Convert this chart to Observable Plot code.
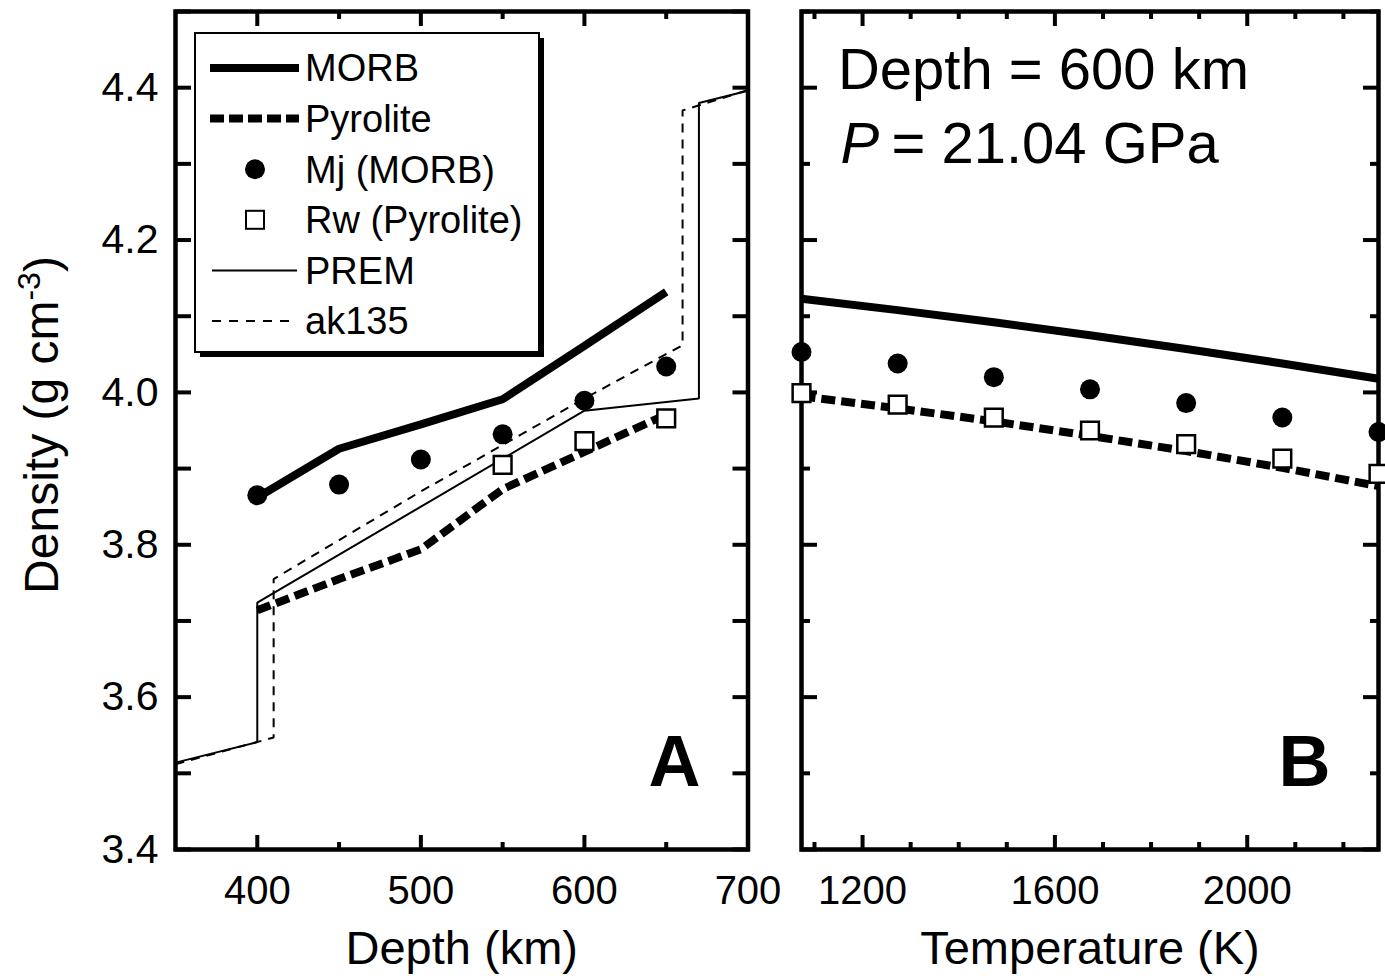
<!DOCTYPE html>
<html><head><meta charset="utf-8">
<script src="https://cdn.jsdelivr.net/npm/d3@7"></script>
<script src="https://cdn.jsdelivr.net/npm/@observablehq/plot@0.6"></script>
<style>
body{margin:0;background:#fff;}
#wrap{display:flex;width:1385px;height:976px;position:relative;}
#wrap svg{flex:none;}
</style></head><body><div id="wrap"></div>
<script>
// ---------- Panel A: density vs depth ----------
const depthMORB = [400, 450, 500, 550, 600, 650];
const rhoMORB   = [3.862, 3.926, 3.958, 3.991, 4.061, 4.132];
const depthPyr  = [400, 450, 500, 550, 600, 650];
const rhoPyr    = [3.714, 3.755, 3.794, 3.873, 3.922, 3.971];
const depthMj   = [400, 450, 500, 550, 600, 650];
const rhoMj     = [3.865, 3.879, 3.912, 3.945, 3.989, 4.034];
const depthRw   = [550, 600, 650];
const rhoRw     = [3.905, 3.936, 3.966];
const depthPREM = [350, 400, 400, 600, 670, 670, 700];
const rhoPREM   = [3.514, 3.541, 3.724, 3.976, 3.992, 4.380, 4.396];
const depthAK   = [350, 410, 410, 500, 600, 660, 660, 700];
const rhoAK     = [3.512, 3.547, 3.755, 3.870, 3.992, 4.062, 4.370, 4.397];

// ---------- Panel B: density vs temperature at 600 km ----------
const temps     = [1073, 1273, 1473, 1673, 1873, 2073, 2273];
const rhoMORB_T = [4.123, 4.108, 4.092, 4.075, 4.057, 4.038, 4.018];
const rhoPyr_T  = [3.995, 3.979, 3.962, 3.943, 3.923, 3.901, 3.877];
const rhoMj_T   = [4.053, 4.038, 4.020, 4.004, 3.986, 3.967, 3.948];
const rhoRw_T   = [3.999, 3.984, 3.967, 3.950, 3.932, 3.913, 3.893];

// ---------- ticks / labels ----------
const yMajor  = [3.4, 3.6, 3.8, 4.0, 4.2, 4.4];
const yMinor  = [3.5, 3.7, 3.9, 4.1, 4.3, 4.5];
const xMajorA = [400, 500, 600, 700];
const xMinorA = [450, 550, 650];
const xMajorB = [1200, 1600, 2000];
const xMinorB = [1100, 1300, 1400, 1500, 1700, 1800, 1900, 2100, 2200];
const domainA = [350, 700];
const domainB = [1073, 2273];
const domainY = [3.4, 4.5];
const legendLabels = ["MORB", "Pyrolite", "Mj (MORB)", "Rw (Pyrolite)", "PREM", "ak135"];
const xTitleA = "Depth (km)";
const xTitleB = "Temperature (K)";
const annot1 = "Depth = 600 km";
const annot2P = "P";
const annot2Rest = "= 21.04 GPa";

const FONT = '"Liberation Sans", Arial, Helvetica, sans-serif';
const zip = (xs, ys) => xs.map((x, i) => ({x, y: ys[i]}));

const S = {
  morb: {stroke: "#000", strokeWidth: 8, strokeLinecap: "butt", strokeLinejoin: "miter"},
  pyr:  {stroke: "#000", strokeWidth: 8, strokeDasharray: "14,6", strokeLinecap: "butt", strokeLinejoin: "miter"},
  prem: {stroke: "#000", strokeWidth: 2, strokeLinecap: "butt", strokeLinejoin: "miter"},
  ak:   {stroke: "#000", strokeWidth: 2, strokeDasharray: "9,7", strokeLinecap: "butt", strokeLinejoin: "miter"},
  mj:   {r: 10, fill: "#000", stroke: null},
  rw:   {r: 10, symbol: "square", fill: "#fff", stroke: "#000", strokeWidth: 2.5}
};

function tickMarks(xMaj, xMin, yMaj, yMin, yMajLen, yMinLen) {
  const blank = () => "";
  const sw = 4;
  const out = [];
  const ax = (vals, len) => {
    out.push(Plot.axisX(vals, {anchor: "bottom", tickSize: len, dy: -len, tickFormat: blank, label: null, strokeWidth: sw}));
    out.push(Plot.axisX(vals, {anchor: "top", tickSize: len, dy: len, tickFormat: blank, label: null, strokeWidth: sw}));
  };
  const ay = (vals, len) => {
    out.push(Plot.axisY(vals, {anchor: "left", tickSize: len, dx: len, tickFormat: blank, label: null, strokeWidth: sw}));
    out.push(Plot.axisY(vals, {anchor: "right", tickSize: len, dx: -len, tickFormat: blank, label: null, strokeWidth: sw}));
  };
  ax(xMaj, 14); ax(xMin, 7);
  ay(yMaj, yMajLen); ay(yMin, yMinLen);
  return out;
}

const common = {
  height: 976, marginTop: 11, marginBottom: 127,
  y: {domain: domainY},
  style: {fontFamily: FONT, fontSize: "40px", background: "transparent", overflow: "visible", color: "#000"}
};

// ---------- Panel A ----------
const svgA = Plot.plot({
  ...common,
  width: 790, marginLeft: 175, marginRight: 42.5,
  x: {domain: domainA},
  marks: [
    ...tickMarks(xMajorA, xMinorA, yMajor, yMinor, 16, 16),
    Plot.axisX(xMajorA, {anchor: "bottom", tickSize: 0, tickPadding: 26, tickFormat: d => String(d), label: null, fontSize: 40}),
    Plot.axisY(yMajor, {anchor: "left", tickSize: 0, tickPadding: 17, tickFormat: d => d.toFixed(1), label: null, fontSize: 41}),
    Plot.text([xTitleA], {text: d => d, frameAnchor: "bottom", lineAnchor: "top", dy: 81, fontSize: 47}),
    Plot.frame({stroke: "#000", strokeWidth: 4.5}),
    Plot.line(zip(depthPREM, rhoPREM), {x: "x", y: "y", ...S.prem}),
    Plot.line(zip(depthAK, rhoAK), {x: "x", y: "y", ...S.ak}),
    Plot.line(zip(depthMORB, rhoMORB), {x: "x", y: "y", ...S.morb}),
    Plot.line(zip(depthPyr, rhoPyr), {x: "x", y: "y", ...S.pyr}),
    Plot.dot(zip(depthMj, rhoMj), {x: "x", y: "y", ...S.mj}),
    Plot.dot(zip(depthRw, rhoRw), {x: "x", y: "y", ...S.rw}),
    Plot.text(["A"], {text: d => d, frameAnchor: "bottom-right", textAnchor: "end", lineAnchor: "top", dx: -47.5, dy: -114.6, fontSize: 72, fontWeight: "bold"})
  ]
});

// ---------- Panel B ----------
const svgB = Plot.plot({
  ...common,
  width: 595, marginLeft: 11, marginRight: 7,
  x: {domain: domainB},
  marks: [
    ...tickMarks(xMajorB, xMinorB, yMajor, yMinor, 16, 9),
    Plot.axisX(xMajorB, {anchor: "bottom", tickSize: 0, tickPadding: 26, tickFormat: d => String(d), label: null, fontSize: 40}),
    Plot.text([xTitleB], {text: d => d, frameAnchor: "bottom", lineAnchor: "top", dy: 81, fontSize: 47}),
    Plot.frame({stroke: "#000", strokeWidth: 4.5}),
    Plot.line(zip(temps, rhoMORB_T), {x: "x", y: "y", ...S.morb}),
    Plot.line(zip(temps, rhoPyr_T), {x: "x", y: "y", ...S.pyr}),
    Plot.dot(zip(temps, rhoMj_T), {x: "x", y: "y", ...S.mj}),
    Plot.dot(zip(temps, rhoRw_T), {x: "x", y: "y", ...S.rw}),
    Plot.text([annot1], {text: d => d, frameAnchor: "top-left", textAnchor: "start", lineAnchor: "top", dx: 36.4, dy: 36, fontSize: 58}),
    Plot.text([annot2P], {text: d => d, frameAnchor: "top-left", textAnchor: "start", lineAnchor: "top", dx: 39, dy: 110.5, fontSize: 58, fontStyle: "italic"}),
    Plot.text([annot2Rest], {text: d => d, frameAnchor: "top-left", textAnchor: "start", lineAnchor: "top", dx: 90, dy: 110.5, fontSize: 58}),
    Plot.text(["B"], {text: d => d, frameAnchor: "bottom-right", textAnchor: "end", lineAnchor: "top", dx: -48, dy: -114.6, fontSize: 72, fontWeight: "bold"})
  ]
});

const wrap = document.getElementById("wrap");
wrap.appendChild(svgA);
wrap.appendChild(svgB);

// ---------- Y axis title (with superscript) ----------
const gA = d3.select(svgA);
const yt = gA.append("text")
  .attr("transform", "translate(58,425) rotate(-90)")
  .attr("text-anchor", "middle")
  .attr("font-family", FONT).attr("font-size", 48).attr("fill", "#000");
yt.append("tspan").text("Density (g cm");
yt.append("tspan").attr("dy", -18).attr("font-size", 32).text("-3");
yt.append("tspan").attr("dy", 18).text(")");

// ---------- Legend ----------
const lg = gA.append("g").attr("font-family", FONT).attr("font-size", 38)
  .attr("fill", "#000").attr("text-anchor", "start");
lg.append("rect").attr("x", 200).attr("y", 38).attr("width", 344).attr("height", 319).attr("fill", "#000");
lg.append("rect").attr("x", 195).attr("y", 33).attr("width", 344).attr("height", 319)
  .attr("fill", "#fff").attr("stroke", "#000").attr("stroke-width", 2);
const rowY = i => 68 + i * 50.6;
const styles = [S.morb, S.pyr, null, null, S.prem, S.ak];
legendLabels.forEach((lab, i) => {
  const y = rowY(i);
  const st = styles[i];
  if (st) {
    const x0 = st.strokeWidth > 4 ? 210 : 212;
    const x1 = st.strokeWidth > 4 ? 299 : 297;
    lg.append("line").attr("x1", x0).attr("x2", x1).attr("y1", y).attr("y2", y)
      .attr("stroke", "#000").attr("stroke-width", st.strokeWidth)
      .attr("stroke-dasharray", st.strokeDasharray ? (st.strokeWidth > 4 ? "14,5" : "9,8") : null);
  } else if (i === 2) {
    lg.append("circle").attr("cx", 255).attr("cy", y).attr("r", 10).attr("fill", "#000");
  } else {
    lg.append("rect").attr("x", 246).attr("y", y - 9).attr("width", 18).attr("height", 18)
      .attr("fill", "#fff").attr("stroke", "#000").attr("stroke-width", 2);
  }
  lg.append("text").attr("x", 305).attr("y", y).attr("dy", "0.35em").attr("text-anchor", "start").text(lab);
});
</script></body></html>
